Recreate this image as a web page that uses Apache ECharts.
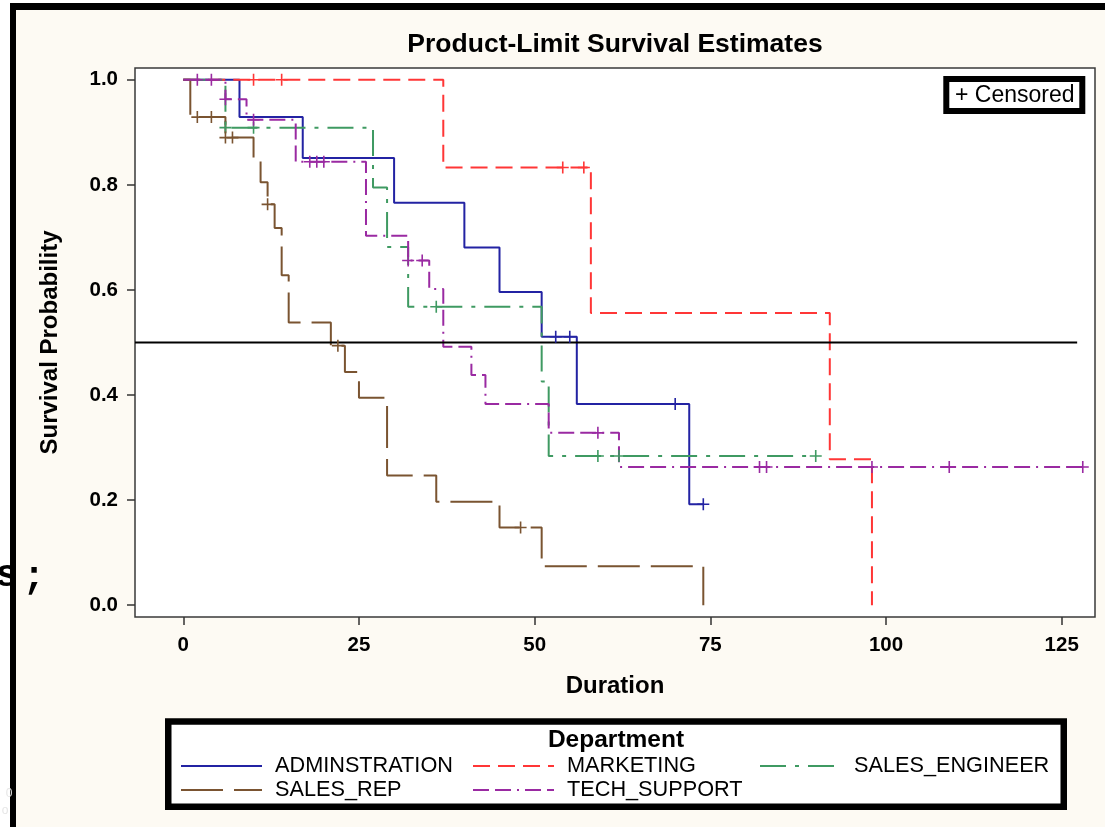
<!DOCTYPE html>
<html>
<head>
<meta charset="utf-8">
<script src="https://cdn.jsdelivr.net/npm/echarts@6/dist/echarts.min.js"></script>
<style>
  html, body { margin: 0; padding: 0; background: #ffffff; }
  #chart { width: 1105px; height: 827px; }
</style>
</head>
<body>
<div id="chart"></div>
<script>
// Product-limit (Kaplan-Meier) estimates by department.
// Each *Times array holds the time where the curve steps, *Surv the survival value from that time on.
const adminTimes = [0, 8, 17, 30, 40, 45, 51, 56, 72, 74];
const adminSurv = [1, 0.929, 0.851, 0.766, 0.681, 0.596, 0.511, 0.383, 0.192, 0.192];
const adminCensor = [53, 55, 70, 74];

const marketingTimes = [0, 37, 58, 92, 98];
const marketingSurv = [1, 0.833, 0.556, 0.278, 0];
const marketingCensor = [10, 14, 54, 57];

const engineerTimes = [0, 6, 27, 29, 32, 51, 52, 90];
const engineerSurv = [1, 0.909, 0.795, 0.682, 0.568, 0.426, 0.284, 0.284];
const engineerCensor = [6, 10, 36, 59, 62, 90];

const repTimes = [0, 1, 6, 10, 11, 12, 13, 14, 15, 21, 23, 25, 29, 36, 45, 51, 74];
const repSurv = [1, 0.929, 0.890, 0.848, 0.805, 0.763, 0.718, 0.628, 0.538, 0.494, 0.444, 0.395, 0.247, 0.197, 0.148, 0.074, 0];
const repCensor = [2, 4, 6, 7, 12, 22, 48];

const techTimes = [0, 6, 9, 16, 26, 32, 35, 37, 41, 43, 52, 62, 128];
const techSurv = [1, 0.963, 0.924, 0.844, 0.703, 0.656, 0.602, 0.492, 0.438, 0.383, 0.328, 0.263, 0.263];
const techCensor = [2, 4, 6, 10, 18, 19, 20, 32, 34, 59, 82, 83, 98, 109, 128];

const departments = ['ADMINSTRATION', 'MARKETING', 'SALES_ENGINEER', 'SALES_REP', 'TECH_SUPPORT'];

const xTicks = [0, 25, 50, 75, 100, 125];
const yTicks = [0, 0.2, 0.4, 0.6, 0.8, 1.0];
const xRange = [-6.87, 129.74];
const yRange = [-0.0225, 1.0225];
const medianLevel = 0.5;
const medianLineEnd = 127.2;

const FONT = '"Liberation Sans", Arial, Helvetica, sans-serif';

const styles = {
  ADMINSTRATION: { color: '#2323a3', dash: 'solid' },
  MARKETING: { color: '#ff3636', dash: [17, 8] },
  SALES_ENGINEER: { color: '#3f9a62', dash: [26, 9, 4, 9] },
  SALES_REP: { color: '#7a5431', dash: [42, 11] },
  TECH_SUPPORT: { color: '#9a2aa2', dash: [16, 6, 16, 6, 2, 6] }
};

const curves = {
  ADMINSTRATION: [adminTimes, adminSurv, adminCensor],
  MARKETING: [marketingTimes, marketingSurv, marketingCensor],
  SALES_ENGINEER: [engineerTimes, engineerSurv, engineerCensor],
  SALES_REP: [repTimes, repSurv, repCensor],
  TECH_SUPPORT: [techTimes, techSurv, techCensor]
};

// survival value of a step curve at time t (value after any step at t)
function survAt(times, surv, t) {
  let v = surv[0];
  for (let i = 0; i < times.length; i++) {
    if (times[i] <= t) v = surv[i];
  }
  return v;
}

// plus-shaped censoring mark
const PLUS = 'path://M5.2,0h1.6v12h-1.6z M0,5.2h12v1.6h-12z';

const series = [];
departments.forEach(function (name) {
  const c = curves[name];
  const st = styles[name];
  series.push({
    name: name,
    type: 'line',
    step: 'end',
    showSymbol: false,
    symbol: 'none',
    silent: true,
    data: c[0].map(function (t, i) { return [t, c[1][i]]; }),
    lineStyle: { color: st.color, width: 2, type: st.dash },
    z: 2
  });
});
series.push({
  name: 'median',
  type: 'line',
  showSymbol: false,
  symbol: 'none',
  silent: true,
  data: [[xRange[0], medianLevel], [medianLineEnd, medianLevel]],
  lineStyle: { color: '#000000', width: 2.2 },
  z: 3
});
departments.forEach(function (name) {
  const c = curves[name];
  const st = styles[name];
  series.push({
    name: name + ' censored',
    type: 'scatter',
    symbol: PLUS,
    symbolSize: 12,
    silent: true,
    data: c[2].map(function (t) { return [t, survAt(c[0], c[1], t)]; }),
    itemStyle: { color: st.color, opacity: 1 },
    z: 4
  });
});

// legend rows drawn below the plot
const legendItems = [
  { name: 'ADMINSTRATION', x: 181, y: 766 },
  { name: 'MARKETING', x: 473, y: 766 },
  { name: 'SALES_ENGINEER', x: 760, y: 766 },
  { name: 'SALES_REP', x: 181, y: 790 },
  { name: 'TECH_SUPPORT', x: 473, y: 790 }
];
const legendGraphics = [];
legendItems.forEach(function (it) {
  const st = styles[it.name];
  legendGraphics.push({
    type: 'line',
    shape: { x1: it.x, y1: it.y, x2: it.x + 81, y2: it.y },
    style: { stroke: st.color, lineWidth: 2, lineDash: st.dash === 'solid' ? null : st.dash }
  });
  legendGraphics.push({
    type: 'text',
    x: it.x + 94,
    y: it.y,
    style: { text: it.name, font: '21.7px ' + FONT, fill: '#000', verticalAlign: 'middle', align: 'left' }
  });
});

const chart = echarts.init(document.getElementById('chart'), null, { renderer: 'canvas' });
chart.setOption({
  animation: false,
  backgroundColor: '#fdfaf3',
  title: {
    text: 'Product-Limit Survival Estimates',
    left: 610,
    top: 26,
    textAlign: 'center',
    textStyle: { fontFamily: FONT, fontSize: 26.5, fontWeight: 'bold', color: '#000' }
  },
  grid: {
    left: 135, top: 68, right: 10, bottom: 210,
    show: true,
    backgroundColor: '#ffffff',
    borderColor: '#3a3a3a',
    borderWidth: 1.5,
    containLabel: false,
    outerBoundsMode: 'none'
  },
  xAxis: {
    type: 'value',
    min: xRange[0],
    max: xRange[1],
    name: 'Duration',
    nameLocation: 'middle',
    nameGap: 57,
    nameTextStyle: { fontFamily: FONT, fontSize: 24, fontWeight: 'bold', color: '#000' },
    axisLine: { show: false, onZero: false },
    splitLine: { show: false },
    axisTick: { show: true, customValues: xTicks, length: 8, inside: false, lineStyle: { color: '#333', width: 1.5 } },
    axisLabel: {
      customValues: xTicks, margin: 18,
      fontFamily: FONT, fontSize: 20.5, fontWeight: 'bold', color: '#000',
      formatter: function (v) { return String(v); }
    }
  },
  yAxis: {
    type: 'value',
    min: yRange[0],
    max: yRange[1],
    name: 'Survival Probability',
    nameLocation: 'middle',
    nameGap: 73,
    nameTextStyle: { fontFamily: FONT, fontSize: 24, fontWeight: 'bold', color: '#000' },
    axisLine: { show: false, onZero: false },
    splitLine: { show: false },
    axisTick: { show: true, customValues: yTicks, length: 8, inside: false, lineStyle: { color: '#333', width: 1.5 } },
    axisLabel: {
      customValues: yTicks, margin: 17,
      fontFamily: FONT, fontSize: 20.5, fontWeight: 'bold', color: '#000',
      formatter: function (v) { return v.toFixed(1); }
    }
  },
  series: series,
  graphic: [
    // white margin behind the page edge
    { type: 'rect', z: 40, shape: { x: 0, y: 0, width: 10, height: 827 }, style: { fill: '#ffffff' } },
    { type: 'rect', z: 40, shape: { x: 0, y: 0, width: 1105, height: 3 }, style: { fill: '#ffffff' } },
    // stray characters at the left edge
    { type: 'text', x: 7, y: 576, z: 50, style: { text: 's', font: 'bold 38px "Liberation Mono", "DejaVu Sans Mono", monospace', fill: '#000', align: 'center', verticalAlign: 'middle' } },
    { type: 'text', x: 34, y: 578, z: 50, style: { text: ';', font: 'bold 38px "Liberation Mono", "DejaVu Sans Mono", monospace', fill: '#000', align: 'center', verticalAlign: 'middle' } },
    // black frame edges
    { type: 'rect', z: 61, shape: { x: 10, y: 3, width: 1095, height: 7 }, style: { fill: '#000000' } },
    { type: 'rect', z: 61, shape: { x: 10, y: 3, width: 6, height: 824 }, style: { fill: '#000000' } },
    { type: 'text', x: 9, y: 794, z: 62, style: { text: '0', font: '12px ' + FONT, fill: '#e6e6e6', align: 'center', verticalAlign: 'middle' } },
    { type: 'text', x: 5, y: 811, z: 62, style: { text: 'o', font: '12px ' + FONT, fill: '#e6e6e6', align: 'center', verticalAlign: 'middle' } },
    // censored key
    { type: 'rect', z: 20, shape: { x: 946.3, y: 79, width: 136, height: 32 }, style: { fill: '#ffffff', stroke: '#000000', lineWidth: 6 } },
    { type: 'text', z: 21, x: 955, y: 95.5, style: { text: '+ Censored', font: '23px ' + FONT, fill: '#000', align: 'left', verticalAlign: 'middle' } },
    // department legend frame and title
    { type: 'rect', z: 20, shape: { x: 168.25, y: 721.5, width: 895.5, height: 85.25 }, style: { fill: '#ffffff', stroke: '#000000', lineWidth: 6.5 } },
    { type: 'text', z: 21, x: 616, y: 740, style: { text: 'Department', font: 'bold 24.5px ' + FONT, fill: '#000', align: 'center', verticalAlign: 'middle' } }
  ].concat(legendGraphics.map(function (g) { g.z = 21; return g; }))
});
</script>
</body>
</html>
